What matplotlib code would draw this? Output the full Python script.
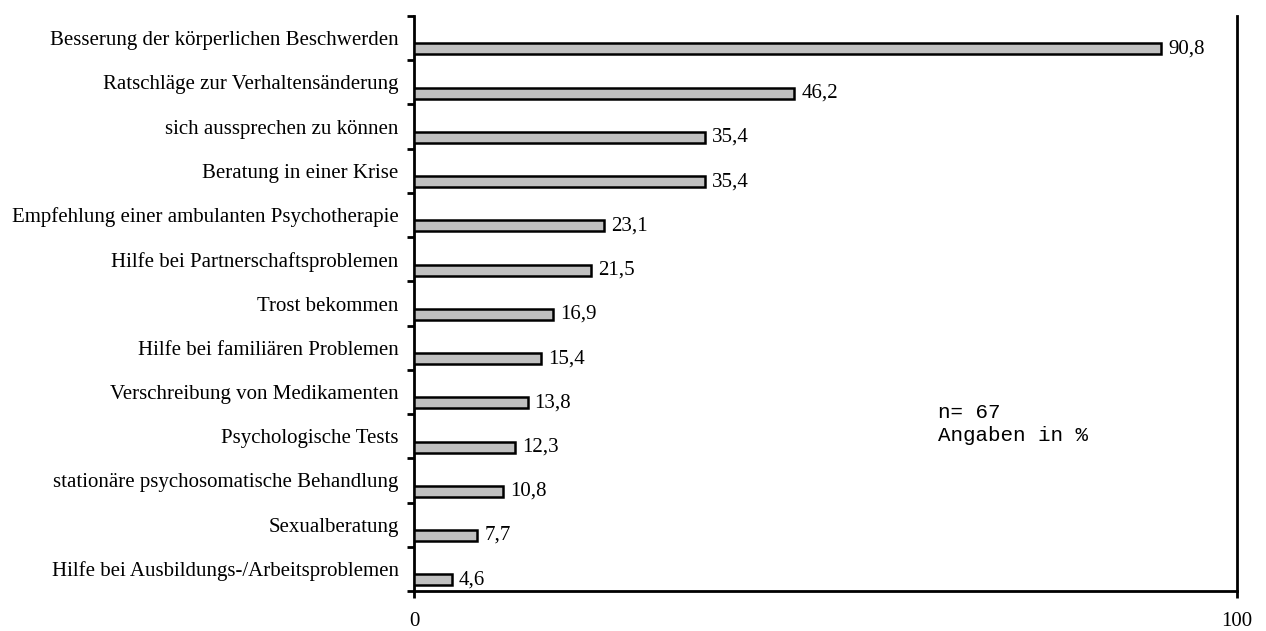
import numpy as np
import matplotlib.pyplot as plt

# Answers (percent), top to bottom
categories = [
    "Besserung der körperlichen Beschwerden",
    "Ratschläge zur Verhaltensänderung",
    "sich aussprechen zu können",
    "Beratung in einer Krise",
    "Empfehlung einer ambulanten Psychotherapie",
    "Hilfe bei Partnerschaftsproblemen",
    "Trost bekommen",
    "Hilfe bei familiären Problemen",
    "Verschreibung von Medikamenten",
    "Psychologische Tests",
    "stationäre psychosomatische Behandlung",
    "Sexualberatung",
    "Hilfe bei Ausbildungs-/Arbeitsproblemen",
]
values = [90.8, 46.2, 35.4, 35.4, 23.1, 21.5, 16.9, 15.4, 13.8, 12.3, 10.8, 7.7, 4.6]
x_ticks = [0, 100]
note = "n= 67\nAngaben in %"

plt.rcParams['font.family'] = 'Liberation Serif'
plt.rcParams['font.size'] = 15

fig = plt.figure(figsize=(12.66, 6.31), dpi=100)
ax = fig.add_axes([414 / 1266, 40 / 631, 823 / 1266, 575 / 631])

n = len(categories)
pos = np.arange(n)
bar_shift = 0.245

ax.barh(pos + bar_shift, values, height=0.25, color='#c0c0c0',
        edgecolor='black', linewidth=1.8, zorder=3)

for p, v in zip(pos, values):
    ax.annotate(f"{v:.1f}".replace('.', ','), (v, p + bar_shift),
                xytext=(5, 0), textcoords='offset points',
                va='center', ha='left', fontsize=15)

ax.set_xlim(0, 100)
ax.set_ylim(n - 0.5, -0.5)

# tick marks between categories, labels at category centres
ax.set_yticks(np.arange(n + 1) - 0.5)
ax.set_yticklabels([])
ax.set_yticks(pos, minor=True)
ax.set_yticklabels(categories, minor=True)
ax.tick_params(axis='y', which='major', length=5, width=2, direction='out')
ax.tick_params(axis='y', which='minor', length=0, pad=11)

ax.set_xticks(x_ticks)
ax.set_xticklabels([str(t) for t in x_ticks])
ax.tick_params(axis='x', length=5, width=2, direction='out', pad=10)

ax.spines['top'].set_visible(False)
for side in ['left', 'bottom', 'right']:
    ax.spines[side].set_linewidth(2)

ax.text(0.637, 0.29, note, transform=ax.transAxes, family='Liberation Mono',
        fontsize=15, va='center', ha='left', linespacing=1.25)

fig.savefig("out.png", dpi=100)
